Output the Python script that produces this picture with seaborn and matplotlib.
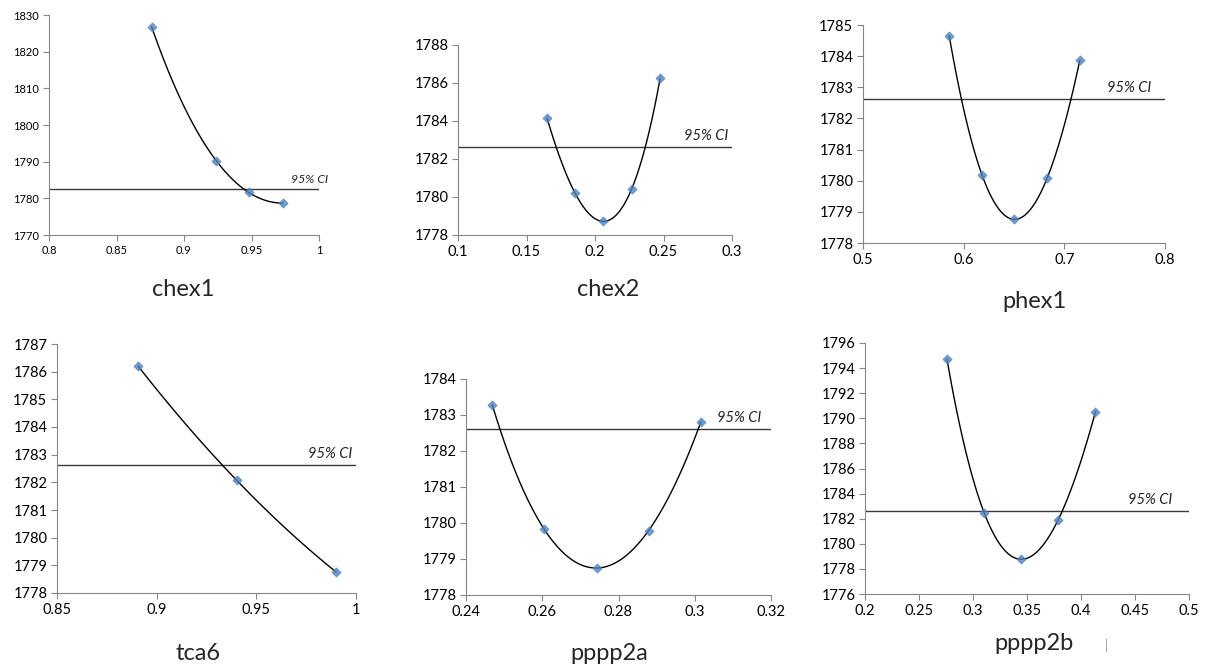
import numpy as np
import pandas as pd
import seaborn as sns
import matplotlib.pyplot as plt
from matplotlib.ticker import FuncFormatter

# panel names, in reading order
names = ["chex1", "chex2", "phex1", "tca6", "pppp2a", "pppp2b"]

# points
chex1_x = [0.876, 0.924, 0.948, 0.973]
chex1_y = [1826.8, 1790.2, 1781.6, 1778.7]
chex2_x = [0.165, 0.1854, 0.2061, 0.2268, 0.2476]
chex2_y = [1784.16, 1780.21, 1778.72, 1780.43, 1786.27]
phex1_x = [0.5856, 0.6183, 0.6503, 0.683, 0.7154]
phex1_y = [1784.66, 1780.18, 1778.76, 1780.09, 1783.87]
tca6_x = [0.8908, 0.9402, 0.99]
tca6_y = [1786.19, 1782.07, 1778.76]
pppp2a_x = [0.2469, 0.2605, 0.2743, 0.2879, 0.3016]
pppp2a_y = [1783.28, 1779.83, 1778.75, 1779.79, 1782.81]
pppp2b_x = [0.2759, 0.3104, 0.3446, 0.3788, 0.4134]
pppp2b_y = [1794.72, 1782.46, 1778.77, 1781.9, 1790.52]

# 95% CI threshold (same in every panel)
ci_level = 1782.62

# axis ticks per panel
x_ticks = [
    [0.8, 0.85, 0.9, 0.95, 1.0],
    [0.1, 0.15, 0.2, 0.25, 0.3],
    [0.5, 0.6, 0.7, 0.8],
    [0.85, 0.9, 0.95, 1.0],
    [0.24, 0.26, 0.28, 0.30, 0.32],
    [0.2, 0.25, 0.3, 0.35, 0.4, 0.45, 0.5],
]
y_ticks = [
    list(range(1770, 1831, 10)),
    list(range(1778, 1789, 2)),
    list(range(1778, 1786, 1)),
    list(range(1778, 1788, 1)),
    list(range(1778, 1785, 1)),
    list(range(1776, 1797, 2)),
]

xs = [chex1_x, chex2_x, phex1_x, tca6_x, pppp2a_x, pppp2b_x]
ys = [chex1_y, chex2_y, phex1_y, tca6_y, pppp2a_y, pppp2b_y]

W, H = 1210, 669
# axes boxes in pixels: left, right, top, bottom
boxes = [
    (49, 319, 15, 235),
    (458, 732, 45, 235),
    (863, 1165, 25, 243),
    (57, 356, 344, 593),
    (466, 771, 379, 595),
    (865, 1189, 343, 594),
]
title_pos = [(183, 289), (608, 289), (1034, 302), (198, 653), (609, 653), (1034, 643)]
ci_label_x = [1.033, 0.985, 0.954, 0.987, 0.967, 0.948]
tick_size = [8, 10.5, 10.5, 10.5, 10.5, 10.5]
ci_size = [8.8, 10.5, 10.5, 10.5, 10.5, 10.5]

sns.set_style("white")
plt.rcParams['font.family'] = ['Lato', 'DejaVu Sans']

fig = plt.figure(figsize=(W / 100, H / 100), dpi=100)

for i, name in enumerate(names):
    l, r, t, b = boxes[i]
    ax = fig.add_axes([l / W, 1 - b / H, (r - l) / W, (b - t) / H])
    df = pd.DataFrame({"x": xs[i], "y": ys[i]})
    ax.axhline(ci_level, color="#3a3a3a", lw=1.0, zorder=1)
    # smooth curve through every point, plus the points
    sns.regplot(data=df, x="x", y="y", ax=ax, order=len(df) - 1, ci=None,
                marker="D", color="#4F81BD",
                scatter_kws={"s": 22, "zorder": 3, "edgecolor": "#4F81BD", "linewidths": 0.5},
                line_kws={"color": "black", "lw": 1.0, "zorder": 2})
    ax.set_xlim(x_ticks[i][0], x_ticks[i][-1])
    ax.set_ylim(y_ticks[i][0], y_ticks[i][-1])
    ax.set_xticks(x_ticks[i])
    ax.set_yticks(y_ticks[i])
    ax.xaxis.set_major_formatter(FuncFormatter(lambda v, p: f"{v:g}"))
    ax.set_xlabel("")
    ax.set_ylabel("")
    for side in ["top", "right"]:
        ax.spines[side].set_visible(False)
    for side in ["left", "bottom"]:
        ax.spines[side].set_color("#868686")
        ax.spines[side].set_linewidth(0.8)
    ax.tick_params(axis="both", direction="out", length=4, width=0.8,
                   color="#868686", labelsize=tick_size[i], labelcolor="black",
                   left=True, bottom=True, pad=3)
    ax.annotate("95% CI", xy=(ci_label_x[i], ci_level),
                xycoords=("axes fraction", "data"), xytext=(0, 3),
                textcoords="offset points", ha="right", va="bottom",
                style="italic", fontsize=ci_size[i], color="#222222",
                annotation_clip=False)
    tx, ty = title_pos[i]
    fig.text(tx / W, 1 - ty / H, name, ha="center", va="center", fontsize=17)

# stray mark next to the last caption
fig.text(1106 / W, 1 - 645 / H, "|", ha="center", va="center", fontsize=9, color="#999999")

fig.savefig("out.png", dpi=100)
